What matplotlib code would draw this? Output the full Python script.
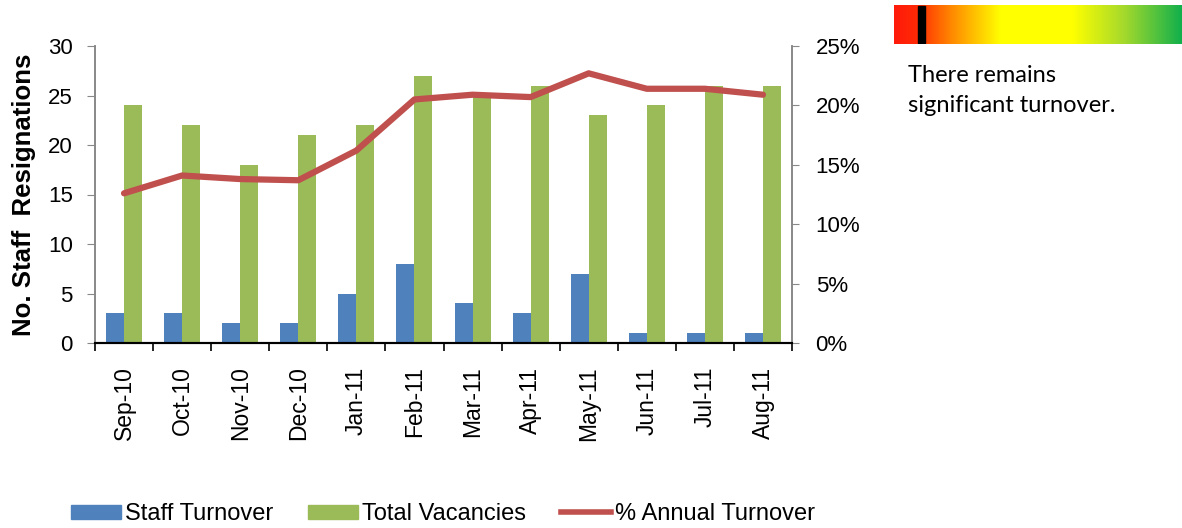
import matplotlib
matplotlib.use("Agg")
import matplotlib.pyplot as plt
import numpy as np
from matplotlib.patches import Patch
from matplotlib.lines import Line2D
from matplotlib.colors import LinearSegmentedColormap

months = ["Sep-10", "Oct-10", "Nov-10", "Dec-10", "Jan-11", "Feb-11",
          "Mar-11", "Apr-11", "May-11", "Jun-11", "Jul-11", "Aug-11"]
staff_turnover = [3, 3, 2, 2, 5, 8, 4, 3, 7, 1, 1, 1]
total_vacancies = [24, 22, 18, 21, 22, 27, 25, 26, 23, 24, 26, 26]
annual_turnover_pct = [12.6, 14.1, 13.8, 13.7, 16.2, 20.5, 20.9, 20.7, 22.7, 21.4, 21.4, 20.9]
left_ticks = [0, 5, 10, 15, 20, 25, 30]
right_ticks = [0, 5, 10, 15, 20, 25]

plt.rcParams['font.family'] = ['Liberation Sans', 'DejaVu Sans']

fig = plt.figure(figsize=(11.82, 5.28), dpi=100)
ax = fig.add_axes([95/1182, 1-343/528, (792-95)/1182, (343-46)/528])
ax2 = ax.twinx()

x = np.arange(len(months))
w = 0.31
blue = "#4f81bd"
green = "#9bbb59"
red = "#c0504d"
ax.bar(x - w/2, staff_turnover, w, color=blue, zorder=2)
ax.bar(x + w/2, total_vacancies, w, color=green, zorder=2)
ax2.plot(x, annual_turnover_pct, color=red, lw=4.5, solid_capstyle='round', zorder=3)

ax.set_xlim(-0.5, len(months) - 0.5)
ax.set_ylim(0, 30)
ax2.set_ylim(0, 25)
ax.set_yticks(left_ticks)
ax2.set_yticks(right_ticks)
ax2.set_yticklabels([f"{t}%" for t in right_ticks])
ax.set_xticks(x)
ax.set_xticklabels(months, rotation=90)
ax.set_xticks(np.arange(-0.5, len(months)), minor=True)
ax.tick_params(axis='x', which='major', length=0, labelsize=16.5, pad=17)
ax.tick_params(axis='x', which='minor', length=6, width=1.2, color='black', direction='out')
ax.tick_params(axis='y', labelsize=16, length=6, color='#888888', direction='out', pad=10)
ax2.tick_params(axis='y', labelsize=16, length=5, color='#888888', direction='out', pad=12)

for a in (ax, ax2):
    a.spines['top'].set_visible(False)
    a.spines['left'].set_color('#888888')
    a.spines['right'].set_color('#888888')
    a.spines['bottom'].set_color('black')
    a.spines['left'].set_linewidth(1.2)
    a.spines['right'].set_linewidth(1.2)
    a.spines['bottom'].set_linewidth(1.5)

fig.text(24/1182, 1-195/528, "No. Staff  Resignations", fontsize=18.5, fontweight='bold',
         rotation=90, ha='center', va='center')

handles = [Patch(color=blue, label="Staff Turnover"),
           Patch(color=green, label="Total Vacancies"),
           Line2D([0], [0], color=red, lw=4, label="% Annual Turnover")]
fig.legend(handles=handles, loc='center', bbox_to_anchor=(443/1182, 1-514/528),
           ncol=3, frameon=False, fontsize=17, handlelength=2.1, handleheight=0.55,
           columnspacing=1.5, handletextpad=0.17, borderpad=0.1)

# gradient indicator
gax = fig.add_axes([894/1182, 1-44/528, (1182-894)/1182, 39/528])
cmap = LinearSegmentedColormap.from_list("ryg", [(0, "#ff1a0a"), (0.08, "#ff2a05"), (0.2, "#ff8a00"),
                                                 (0.37, "#ffff00"), (0.62, "#ffff00"), (0.8, "#a5d92c"),
                                                 (1.0, "#12b04c")])
gax.imshow(np.linspace(0, 1, 256)[None, :], aspect='auto', cmap=cmap, extent=(0, 1, 0, 1))
gax.axvspan(0.083, 0.107, ymin=0.03, ymax=0.97, color='black')
gax.set_xlim(0, 1)
gax.set_ylim(0, 1)
gax.axis('off')

fig.text(908/1182, 1-76/528, "There remains", fontsize=17,
         family=['Lato', 'DejaVu Sans'], va='center', ha='left')
fig.text(908/1182, 1-106/528, "significant turnover.", fontsize=17,
         family=['Lato', 'DejaVu Sans'], va='center', ha='left')

fig.savefig("out.png", dpi=100)
